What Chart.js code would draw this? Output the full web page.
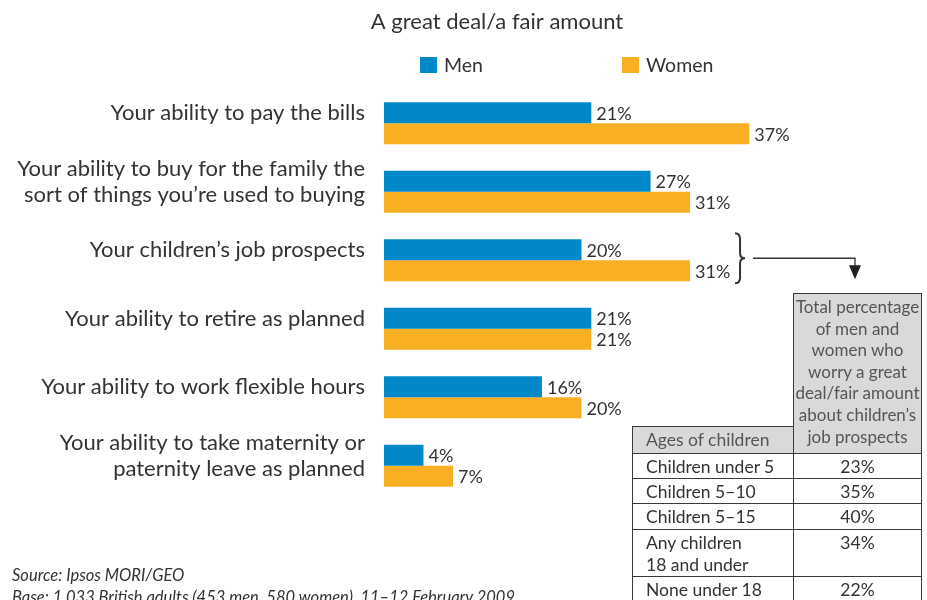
<html>
  <head>
    <script src="https://cdn.jsdelivr.net/npm/chart.js@4.4.0/dist/chart.umd.min.js"></script>
    <style>
      body { margin: 0; background: #fff; color: #333; font-family: Lato, sans-serif; }
      #wrap { position: relative; width: 927px; height: 600px; overflow: hidden; }
      #barChart { position: absolute; left: 0; top: 0; }
      #ageTable { position: absolute; left: 632px; top: 293px; border-collapse: collapse; font-size: 17.5px; line-height: 22px; }
      #ageTable td { border: 1.5px solid #3a3a3a; padding: 2px 0 0 13px; vertical-align: top; }
      #ageTable td.blank { border: none; height: 133px; padding: 0; }
      #ageTable td.head { background: #d9d9d9; color: #555; }
      #ageTable td.total { text-align: center; padding: 2px 0 0 0; line-height: 21.6px; width: 127px; font-size: 17px; }
      #ageTable td.ages { height: 27px; width: 147px; line-height: 22px; padding-top: 2px; }
      #ageTable td.val { text-align: center; padding-left: 0; }
      .note { position: absolute; left: 12px; font-style: italic; font-size: 16.5px; white-space: nowrap; }
    </style>
  </head>
  <body>
    <div id="wrap">
      <canvas id="barChart" width="927" height="600"></canvas>
      <table id="ageTable"></table>
      <div class="note" style="top: 565px">Source: Ipsos MORI/GEO</div>
      <div class="note" style="top: 587px">Base: 1,033 British adults (453 men, 580 women), 11–12 February 2009</div>
    </div>
    <script>
      const categories = [
        'Your ability to pay the bills',
        ['Your ability to buy for the family the', 'sort of things you’re used to buying'],
        'Your children’s job prospects',
        'Your ability to retire as planned',
        'Your ability to work flexible hours',
        ['Your ability to take maternity or', 'paternity leave as planned']
      ];
      const menValues = [21, 27, 20, 21, 16, 4];
      const womenValues = [37, 31, 31, 21, 20, 7];

      const ageGroups = ['Children under 5', 'Children 5–10', 'Children 5–15', ['Any children', '18 and under'], 'None under 18'];
      const ageTotals = [23, 35, 40, 34, 22];
      const totalHeader = ['Total percentage', 'of men and', 'women who', 'worry a great', 'deal/fair amount', 'about children’s', 'job prospects'];

      const BLUE = '#0088c8';
      const ORANGE = '#f8af23';
      const FONT = 'Lato, sans-serif';

      // side table for the children's job prospects row
      const rowHeights = [23, 23, 26, 46, 32];
      let html = '<tr><td class="blank"></td><td class="head total" rowspan="2">' + totalHeader.join('<br>') + '</td></tr>';
      html += '<tr><td class="head ages">Ages of children</td></tr>';
      ageGroups.forEach(function(g, i) {
        const name = Array.isArray(g) ? g.join('<br>') : g;
        html += '<tr><td style="height:' + rowHeights[i] + 'px">' + name + '</td><td class="val">' + ageTotals[i] + '%</td></tr>';
      });
      document.getElementById('ageTable').innerHTML = html;

      // title, legend, value labels and the bracket pointing at the table
      const extras = {
        id: 'extras',
        afterDatasetsDraw(chart) {
          const ctx = chart.ctx;
          ctx.save();
          ctx.fillStyle = '#333';
          ctx.textBaseline = 'middle';

          ctx.font = '22px ' + FONT;
          ctx.textAlign = 'center';
          ctx.fillText('A great deal/a fair amount', 497, 22);

          const legendX = [420, 622];
          ctx.font = '19.5px ' + FONT;
          ctx.textAlign = 'left';
          chart.data.datasets.forEach(function(ds, i) {
            ctx.fillStyle = ds.backgroundColor;
            ctx.fillRect(legendX[i], 57, 17, 16);
            ctx.fillStyle = '#333';
            ctx.fillText(ds.label, legendX[i] + 24, 66);
          });

          ctx.font = '18px ' + FONT;
          chart.data.datasets.forEach(function(ds, i) {
            chart.getDatasetMeta(i).data.forEach(function(bar, j) {
              ctx.fillText(ds.data[j] + '%', bar.x + 5, bar.y + 1);
            });
          });

          const menBar = chart.getDatasetMeta(0).data[2];
          const womenBar = chart.getDatasetMeta(1).data[2];
          const top = menBar.y - menBar.height / 2 - 6;
          const bottom = womenBar.y + womenBar.height / 2 + 2;
          const mid = (top + bottom) / 2;
          const bx = womenBar.x + 45;
          ctx.strokeStyle = '#333';
          ctx.lineWidth = 2;
          ctx.beginPath();
          ctx.moveTo(bx, top);
          ctx.quadraticCurveTo(bx + 5, top, bx + 5, top + 6);
          ctx.lineTo(bx + 5, mid - 5);
          ctx.quadraticCurveTo(bx + 5, mid, bx + 10, mid);
          ctx.quadraticCurveTo(bx + 5, mid, bx + 5, mid + 5);
          ctx.lineTo(bx + 5, bottom - 6);
          ctx.quadraticCurveTo(bx + 5, bottom, bx, bottom);
          ctx.stroke();

          const ax = 855;
          ctx.lineWidth = 1.3;
          ctx.beginPath();
          ctx.moveTo(bx + 18, mid);
          ctx.lineTo(ax, mid);
          ctx.lineTo(ax, mid + 8);
          ctx.stroke();
          ctx.fillStyle = '#222';
          ctx.beginPath();
          ctx.moveTo(ax - 6, mid + 7);
          ctx.lineTo(ax + 6, mid + 7);
          ctx.lineTo(ax, mid + 21);
          ctx.closePath();
          ctx.fill();
          ctx.restore();
        }
      };

      window.onload = function() {
        const ctxBar = document.getElementById('barChart');
        window.myBar = new Chart(ctxBar, {
          type: 'bar',
          data: {
            labels: categories,
            datasets: [
              { label: 'Men', data: menValues, backgroundColor: BLUE },
              { label: 'Women', data: womenValues, backgroundColor: ORANGE }
            ]
          },
          options: {
            indexAxis: 'y',
            responsive: false,
            animation: false,
            datasets: { bar: { barPercentage: 1, categoryPercentage: 0.612 } },
            layout: { padding: { top: 89, bottom: 100, left: 0, right: 0 } },
            plugins: {
              legend: { display: false },
              title: { display: false },
              tooltip: { enabled: false }
            },
            scales: {
              x: { display: false, min: 0, max: 55 },
              y: {
                grid: { display: false, drawTicks: false },
                border: { display: false },
                ticks: {
                  color: '#333',
                  padding: 19,
                  labelOffset: -10,
                  font: { family: FONT, size: 22, lineHeight: '26px' }
                },
                afterFit: function(scale) { scale.width = 384; }
              }
            }
          },
          plugins: [extras]
        });
      };
    </script>
  </body>
</html>
